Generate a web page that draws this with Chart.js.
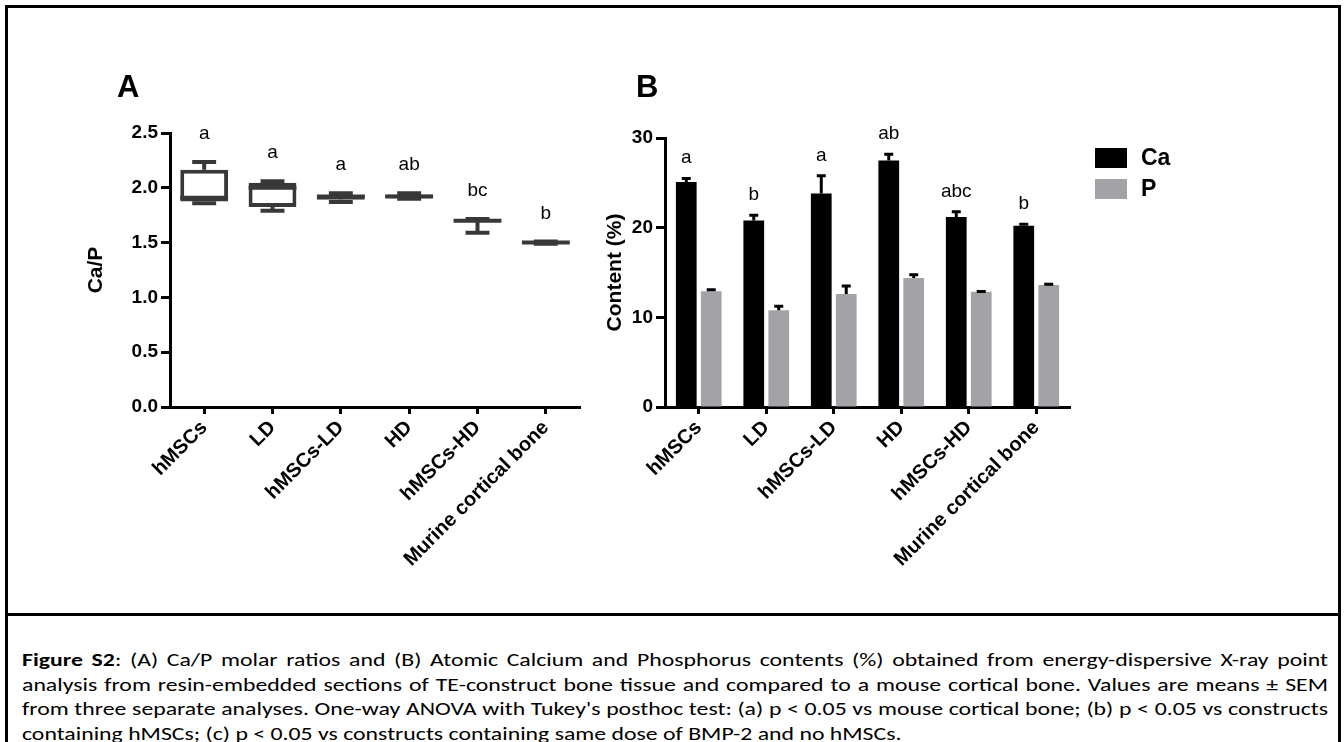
<!DOCTYPE html>
<html><head><meta charset="utf-8">
<script src="https://cdn.jsdelivr.net/npm/chart.js@4.4.0/dist/chart.umd.min.js"></script>
<style>
html,body{margin:0;padding:0;background:#fff;width:1344px;height:742px;overflow:hidden;}
#frame{position:absolute;left:5px;top:5px;width:1336px;height:800px;border:3px solid #000;box-sizing:border-box;}
#divider{position:absolute;left:5px;top:613px;width:1336px;height:3px;background:#000;}
#cA{position:absolute;left:0;top:0;}
#cB{position:absolute;left:600px;top:0;}
#caption{position:absolute;left:22px;top:648px;width:1306px;font-family:Carlito,Calibri,Lato,sans-serif;font-size:17.5px;line-height:24.5px;color:#000;transform-origin:0 0;}
.ln{text-align:justify;text-align-last:justify;}
.ln.last{text-align-last:left;}
</style></head>
<body>
<div id="frame"></div>
<div id="divider"></div>
<canvas id="cA" width="600" height="600"></canvas>
<canvas id="cB" width="744" height="600"></canvas>
<div id="caption">
<div class="ln"><b>Figure S2</b>: (A) Ca/P molar ratios and (B) Atomic Calcium and Phosphorus contents (%) obtained from energy-dispersive X-ray point</div>
<div class="ln">analysis from resin-embedded sections of TE-construct bone tissue and compared to a mouse cortical bone. Values are means ± SEM</div>
<div class="ln">from three separate analyses. One-way ANOVA with Tukey's posthoc test: (a) p &lt; 0.05 vs mouse cortical bone; (b) p &lt; 0.05 vs constructs</div>
<div class="ln last">containing hMSCs; (c) p &lt; 0.05 vs constructs containing same dose of BMP-2 and no hMSCs.</div>
</div>
<script>
// ---- data ----
const categories = ['hMSCs','LD','hMSCs-LD','HD','hMSCs-HD','Murine cortical bone'];
// Panel A: Ca/P box plots
const boxMin    = [1.86, 1.79, 1.87, 1.90, 1.59, 1.49];
const boxQ1     = [1.875,1.825,1.89, 1.905,1.70, 1.495];
const boxMedian = [1.91, 2.00, 1.92, 1.92, 1.70, 1.50];
const boxQ3     = [2.165,2.047,1.935,1.94, 1.71, 1.51];
const boxMax    = [2.235,2.06, 1.95, 1.95, 1.715,1.51];
const lettersA  = ['a','a','a','ab','bc','b'];
const yTicksA   = [0, 0.5, 1.0, 1.5, 2.0, 2.5];
// Panel B: Ca and P contents (%)
const caMean = [25.1, 20.8, 23.8, 27.5, 21.2, 20.2];
const caSEM  = [0.5, 0.7, 2.1, 0.8, 0.7, 0.3];
const pMean  = [12.9, 10.8, 12.6, 14.4, 12.85, 13.6];
const pSEM   = [0.3, 0.55, 1.0, 0.45, 0.15, 0.2];
const lettersB = ['a','b','a','ab','abc','b'];
const yTicksB  = [0, 10, 20, 30];
const seriesNames = ['Ca','P'];

// ---- caption fitting (the reference text is horizontally stretched) ----
function fitCaption(){
  const cap = document.getElementById('caption');
  cap.style.transform = 'none'; cap.style.width = '1306px';
  const lines = Array.from(cap.querySelectorAll('.ln'));
  const widths = lines.map(l=>{
    const sp = document.createElement('span');
    sp.style.whiteSpace = 'nowrap'; sp.style.position = 'absolute'; sp.style.visibility = 'hidden';
    sp.innerHTML = l.innerHTML; cap.appendChild(sp);
    const w = sp.offsetWidth; cap.removeChild(sp); return w;
  });
  const W = 1306;
  const s = Math.min(...widths.slice(0,3).map(w=>W/w)) * 0.995;
  cap.style.width = (W / s) + 'px';
  cap.style.transform = 'scaleX(' + s + ')';
}
fitCaption();
if (document.fonts && document.fonts.ready) document.fonts.ready.then(fitCaption);

// ---- styling ----
const FONT = '"Liberation Sans", Arial, Helvetica, sans-serif';
Chart.defaults.font.family = FONT;
Chart.defaults.color = '#000';
const BOX_COLOR = '#383838';
const CA_COLOR = '#000000';
const P_COLOR = '#a3a3a7';

function xScale(tickLen){
  return {
    ticks:{maxRotation:45,minRotation:45,autoSkip:false,color:'#000',font:{family:FONT,size:20,weight:'bold'},padding:2},
    grid:{display:true,drawOnChartArea:false,drawTicks:true,tickLength:tickLen,tickWidth:3,tickColor:'#000',offset:false},
    border:{display:true,color:'#000',width:3},
    afterFit:s=>{s.height=193;}
  };
}
function yScale(min,max,ticksArr,fmt,title,width){
  return {
    min:min, max:max,
    afterBuildTicks:s=>{ s.ticks = ticksArr.map(v=>({value:v})); },
    ticks:{callback:fmt, color:'#000', font:{family:FONT,size:19,weight:'bold'}, padding:3},
    grid:{display:true,drawOnChartArea:false,drawTicks:true,tickLength:9,tickWidth:3,tickColor:'#000'},
    border:{display:true,color:'#000',width:3},
    title:{display:true,text:title,color:'#000',font:{family:FONT,size:21,weight:'bold'},padding:0},
    afterFit:s=>{s.width=width;}
  };
}

const boxPlugin = {id:'boxWhiskers', afterDatasetsDraw(chart){
  const {ctx, scales:{y}, chartArea} = chart;
  const meta = chart.getDatasetMeta(0);
  ctx.save();
  ctx.strokeStyle = BOX_COLOR; ctx.lineWidth = 4; ctx.lineCap = 'butt';
  meta.data.forEach((bar,i)=>{
    const cx = bar.x, half = bar.width/2, cap = bar.width/4;
    const yMax = y.getPixelForValue(boxMax[i]), yMin = y.getPixelForValue(boxMin[i]);
    const yQ1 = y.getPixelForValue(boxQ1[i]), yQ3 = y.getPixelForValue(boxQ3[i]);
    const yMed = y.getPixelForValue(boxMedian[i]);
    ctx.beginPath();
    ctx.moveTo(cx,yQ3); ctx.lineTo(cx,yMax);
    ctx.moveTo(cx-cap,yMax); ctx.lineTo(cx+cap,yMax);
    ctx.moveTo(cx,yQ1); ctx.lineTo(cx,yMin);
    ctx.moveTo(cx-cap,yMin); ctx.lineTo(cx+cap,yMin);
    ctx.moveTo(cx-half,yMed); ctx.lineTo(cx+half,yMed);
    ctx.stroke();
  });
  ctx.fillStyle = '#000'; ctx.textAlign = 'center'; ctx.textBaseline = 'alphabetic';
  ctx.font = '19px ' + FONT;
  meta.data.forEach((bar,i)=>{ ctx.fillText(lettersA[i], bar.x, y.getPixelForValue(boxMax[i]) - 23); });
  ctx.font = 'bold 31px ' + FONT; ctx.textAlign = 'left';
  ctx.fillText('A', chartArea.left - 53, chartArea.top - 36);
  ctx.restore();
}};

new Chart(document.getElementById('cA'), {
  type:'bar',
  data:{labels:categories, datasets:[{
    label:'Ca/P',
    data: categories.map((c,i)=>[boxQ1[i], boxQ3[i]]),
    backgroundColor:'#ffffff', borderColor:BOX_COLOR, borderWidth:4, borderSkipped:false,
    categoryPercentage:0.7, barPercentage:1
  }]},
  options:{
    responsive:false, animation:false, devicePixelRatio:1,
    layout:{padding:{left:84, top:133, right:20, bottom:0}},
    plugins:{legend:{display:false}, tooltip:{enabled:false}},
    scales:{
      x: xScale(7),
      y: yScale(0, 2.5, yTicksA, v=>Number(v).toFixed(1), 'Ca/P', 86)
    }
  },
  plugins:[boxPlugin]
});

const errPlugin = {id:'errorBars', afterDatasetsDraw(chart){
  const {ctx, scales:{y}, chartArea} = chart;
  const means = [caMean, pMean], sems = [caSEM, pSEM];
  ctx.save();
  ctx.strokeStyle = '#000'; ctx.lineWidth = 3; ctx.lineCap = 'butt';
  [0,1].forEach(d=>{
    chart.getDatasetMeta(d).data.forEach((bar,i)=>{
      const top = y.getPixelForValue(means[d][i] + sems[d][i]);
      ctx.beginPath();
      ctx.moveTo(bar.x, bar.y); ctx.lineTo(bar.x, top);
      ctx.moveTo(bar.x-4.5, top+1); ctx.lineTo(bar.x+4.5, top+1);
      ctx.stroke();
    });
  });
  ctx.fillStyle = '#000'; ctx.textAlign = 'center'; ctx.textBaseline = 'alphabetic';
  ctx.font = '19px ' + FONT;
  chart.getDatasetMeta(0).data.forEach((bar,i)=>{
    ctx.fillText(lettersB[i], bar.x, y.getPixelForValue(caMean[i] + caSEM[i]) - 14);
  });
  // legend
  const colors = [CA_COLOR, P_COLOR];
  ctx.textAlign = 'left'; ctx.textBaseline = 'middle';
  ctx.font = 'bold 23px ' + FONT;
  seriesNames.forEach((name,k)=>{
    const bx = chartArea.right + 25, by = chartArea.top + 10 + k*31;
    ctx.fillStyle = colors[k]; ctx.fillRect(bx, by, 32, 20);
    ctx.fillStyle = '#000'; ctx.fillText(name, bx + 46, by + 11);
  });
  ctx.font = 'bold 31px ' + FONT; ctx.textBaseline = 'alphabetic';
  ctx.fillText('B', chartArea.left - 29, chartArea.top - 41);
  ctx.restore();
}};

new Chart(document.getElementById('cB'), {
  type:'bar',
  data:{labels:categories, datasets:[
    {label:seriesNames[0], data:caMean, backgroundColor:CA_COLOR, categoryPercentage:0.74, barPercentage:0.83},
    {label:seriesNames[1], data:pMean, backgroundColor:P_COLOR, categoryPercentage:0.74, barPercentage:0.83}
  ]},
  options:{
    responsive:false, animation:false, devicePixelRatio:1,
    layout:{padding:{left:3, top:138, right:274, bottom:0}},
    plugins:{legend:{display:false}, tooltip:{enabled:false}},
    scales:{
      x: xScale(7),
      y: yScale(0, 30, yTicksB, v=>String(v), 'Content (%)', 62)
    }
  },
  plugins:[errPlugin]
});
</script>
</body></html>
